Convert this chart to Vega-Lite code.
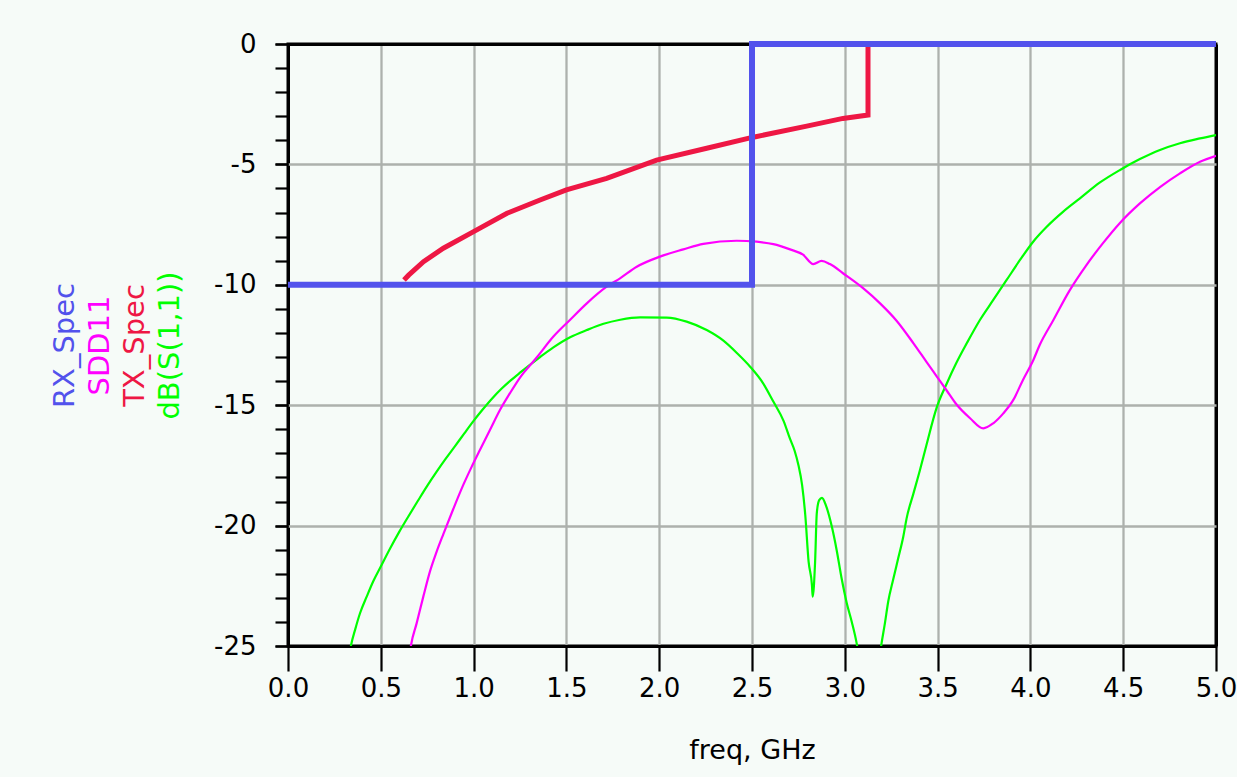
{
  "$schema": "https://vega.github.io/schema/vega-lite/v6.json",
  "width": 928,
  "height": 602,
  "autosize": {"type": "none"},
  "padding": {"left": 288, "top": 44, "right": 21, "bottom": 131},
  "background": "#f6fbf8",
  "config": {
    "view": {"stroke": "#000000", "strokeWidth": 3, "fill": "#f6fbf8"},
    "font": "DejaVu Sans"
  },
  "data": {
    "values": [
      {"series": "RX_Spec", "freq": 0, "dB": -10},
      {"series": "RX_Spec", "freq": 2.5, "dB": -10},
      {"series": "RX_Spec", "freq": 2.5, "dB": 0},
      {"series": "RX_Spec", "freq": 5, "dB": 0},

      {"series": "TX_Spec", "freq": 0.625, "dB": -9.8},
      {"series": "TX_Spec", "freq": 0.65, "dB": -9.6},
      {"series": "TX_Spec", "freq": 0.73, "dB": -9.04},
      {"series": "TX_Spec", "freq": 0.837, "dB": -8.48},
      {"series": "TX_Spec", "freq": 1.0, "dB": -7.79},
      {"series": "TX_Spec", "freq": 1.18, "dB": -7.03},
      {"series": "TX_Spec", "freq": 1.358, "dB": -6.48},
      {"series": "TX_Spec", "freq": 1.5, "dB": -6.06},
      {"series": "TX_Spec", "freq": 1.717, "dB": -5.58},
      {"series": "TX_Spec", "freq": 1.986, "dB": -4.82},
      {"series": "TX_Spec", "freq": 2.256, "dB": -4.33},
      {"series": "TX_Spec", "freq": 2.507, "dB": -3.87},
      {"series": "TX_Spec", "freq": 2.795, "dB": -3.41},
      {"series": "TX_Spec", "freq": 2.99, "dB": -3.09},
      {"series": "TX_Spec", "freq": 3.125, "dB": -2.95},
      {"series": "TX_Spec", "freq": 3.125, "dB": 0},

      {"series": "SDD11", "freq": 0.645, "dB": -26},
      {"series": "SDD11", "freq": 0.663, "dB": -24.96},
      {"series": "SDD11", "freq": 0.693, "dB": -24.06},
      {"series": "SDD11", "freq": 0.729, "dB": -22.95},
      {"series": "SDD11", "freq": 0.765, "dB": -21.9},
      {"series": "SDD11", "freq": 0.8, "dB": -21.1},
      {"series": "SDD11", "freq": 0.837, "dB": -20.35},
      {"series": "SDD11", "freq": 0.891, "dB": -19.3},
      {"series": "SDD11", "freq": 0.945, "dB": -18.3},
      {"series": "SDD11", "freq": 0.99, "dB": -17.55},
      {"series": "SDD11", "freq": 1.034, "dB": -16.86},
      {"series": "SDD11", "freq": 1.088, "dB": -16.03},
      {"series": "SDD11", "freq": 1.142, "dB": -15.2},
      {"series": "SDD11", "freq": 1.196, "dB": -14.5},
      {"series": "SDD11", "freq": 1.25, "dB": -13.85},
      {"series": "SDD11", "freq": 1.34, "dB": -13.02},
      {"series": "SDD11", "freq": 1.43, "dB": -12.15},
      {"series": "SDD11", "freq": 1.519, "dB": -11.46},
      {"series": "SDD11", "freq": 1.61, "dB": -10.77},
      {"series": "SDD11", "freq": 1.717, "dB": -10.08},
      {"series": "SDD11", "freq": 1.789, "dB": -9.73},
      {"series": "SDD11", "freq": 1.879, "dB": -9.25},
      {"series": "SDD11", "freq": 2.004, "dB": -8.83},
      {"series": "SDD11", "freq": 2.13, "dB": -8.53},
      {"series": "SDD11", "freq": 2.238, "dB": -8.3},
      {"series": "SDD11", "freq": 2.417, "dB": -8.17},
      {"series": "SDD11", "freq": 2.525, "dB": -8.21},
      {"series": "SDD11", "freq": 2.615, "dB": -8.31},
      {"series": "SDD11", "freq": 2.705, "dB": -8.53},
      {"series": "SDD11", "freq": 2.775, "dB": -8.75},
      {"series": "SDD11", "freq": 2.83, "dB": -9.14},
      {"series": "SDD11", "freq": 2.875, "dB": -9.01},
      {"series": "SDD11", "freq": 2.92, "dB": -9.14},
      {"series": "SDD11", "freq": 2.99, "dB": -9.52},
      {"series": "SDD11", "freq": 3.1, "dB": -10.15},
      {"series": "SDD11", "freq": 3.19, "dB": -10.77},
      {"series": "SDD11", "freq": 3.28, "dB": -11.5},
      {"series": "SDD11", "freq": 3.37, "dB": -12.43},
      {"series": "SDD11", "freq": 3.44, "dB": -13.2},
      {"series": "SDD11", "freq": 3.495, "dB": -13.8},
      {"series": "SDD11", "freq": 3.55, "dB": -14.4},
      {"series": "SDD11", "freq": 3.6, "dB": -14.95},
      {"series": "SDD11", "freq": 3.675, "dB": -15.54},
      {"series": "SDD11", "freq": 3.746, "dB": -15.96},
      {"series": "SDD11", "freq": 3.8, "dB": -15.75},
      {"series": "SDD11", "freq": 3.854, "dB": -15.34},
      {"series": "SDD11", "freq": 3.908, "dB": -14.78},
      {"series": "SDD11", "freq": 3.96, "dB": -13.95},
      {"series": "SDD11", "freq": 4.016, "dB": -13.12},
      {"series": "SDD11", "freq": 4.05, "dB": -12.5},
      {"series": "SDD11", "freq": 4.124, "dB": -11.46},
      {"series": "SDD11", "freq": 4.21, "dB": -10.25},
      {"series": "SDD11", "freq": 4.3, "dB": -9.2},
      {"series": "SDD11", "freq": 4.39, "dB": -8.28},
      {"series": "SDD11", "freq": 4.48, "dB": -7.45},
      {"series": "SDD11", "freq": 4.59, "dB": -6.62},
      {"series": "SDD11", "freq": 4.7, "dB": -5.93},
      {"series": "SDD11", "freq": 4.806, "dB": -5.37},
      {"series": "SDD11", "freq": 4.914, "dB": -4.89},
      {"series": "SDD11", "freq": 5.0, "dB": -4.64},

      {"series": "dB(S(1,1))", "freq": 0.32, "dB": -26},
      {"series": "dB(S(1,1))", "freq": 0.34, "dB": -24.96},
      {"series": "dB(S(1,1))", "freq": 0.361, "dB": -24.34},
      {"series": "dB(S(1,1))", "freq": 0.388, "dB": -23.64},
      {"series": "dB(S(1,1))", "freq": 0.424, "dB": -22.95},
      {"series": "dB(S(1,1))", "freq": 0.46, "dB": -22.3},
      {"series": "dB(S(1,1))", "freq": 0.5, "dB": -21.7},
      {"series": "dB(S(1,1))", "freq": 0.55, "dB": -20.95},
      {"series": "dB(S(1,1))", "freq": 0.6, "dB": -20.25},
      {"series": "dB(S(1,1))", "freq": 0.65, "dB": -19.6},
      {"series": "dB(S(1,1))", "freq": 0.7, "dB": -18.97},
      {"series": "dB(S(1,1))", "freq": 0.75, "dB": -18.35},
      {"series": "dB(S(1,1))", "freq": 0.8, "dB": -17.77},
      {"series": "dB(S(1,1))", "freq": 0.85, "dB": -17.22},
      {"series": "dB(S(1,1))", "freq": 0.9, "dB": -16.7},
      {"series": "dB(S(1,1))", "freq": 0.95, "dB": -16.17},
      {"series": "dB(S(1,1))", "freq": 1.0, "dB": -15.65},
      {"series": "dB(S(1,1))", "freq": 1.05, "dB": -15.17},
      {"series": "dB(S(1,1))", "freq": 1.1, "dB": -14.72},
      {"series": "dB(S(1,1))", "freq": 1.15, "dB": -14.32},
      {"series": "dB(S(1,1))", "freq": 1.2, "dB": -13.97},
      {"series": "dB(S(1,1))", "freq": 1.25, "dB": -13.65},
      {"series": "dB(S(1,1))", "freq": 1.358, "dB": -13.0},
      {"series": "dB(S(1,1))", "freq": 1.43, "dB": -12.6},
      {"series": "dB(S(1,1))", "freq": 1.52, "dB": -12.18},
      {"series": "dB(S(1,1))", "freq": 1.61, "dB": -11.88},
      {"series": "dB(S(1,1))", "freq": 1.7, "dB": -11.62},
      {"series": "dB(S(1,1))", "freq": 1.79, "dB": -11.45},
      {"series": "dB(S(1,1))", "freq": 1.897, "dB": -11.35},
      {"series": "dB(S(1,1))", "freq": 2.04, "dB": -11.36},
      {"series": "dB(S(1,1))", "freq": 2.148, "dB": -11.53},
      {"series": "dB(S(1,1))", "freq": 2.256, "dB": -11.88},
      {"series": "dB(S(1,1))", "freq": 2.346, "dB": -12.32},
      {"series": "dB(S(1,1))", "freq": 2.417, "dB": -12.82},
      {"series": "dB(S(1,1))", "freq": 2.49, "dB": -13.4},
      {"series": "dB(S(1,1))", "freq": 2.56, "dB": -14.09},
      {"series": "dB(S(1,1))", "freq": 2.615, "dB": -14.85},
      {"series": "dB(S(1,1))", "freq": 2.67, "dB": -15.65},
      {"series": "dB(S(1,1))", "freq": 2.705, "dB": -16.4},
      {"series": "dB(S(1,1))", "freq": 2.73, "dB": -16.9},
      {"series": "dB(S(1,1))", "freq": 2.75, "dB": -17.48},
      {"series": "dB(S(1,1))", "freq": 2.77, "dB": -18.32},
      {"series": "dB(S(1,1))", "freq": 2.787, "dB": -19.56},
      {"series": "dB(S(1,1))", "freq": 2.805, "dB": -21.5},
      {"series": "dB(S(1,1))", "freq": 2.823, "dB": -22.47},
      {"series": "dB(S(1,1))", "freq": 2.827, "dB": -22.95},
      {"series": "dB(S(1,1))", "freq": 2.84, "dB": -21.5},
      {"series": "dB(S(1,1))", "freq": 2.849, "dB": -19.49},
      {"series": "dB(S(1,1))", "freq": 2.862, "dB": -18.94},
      {"series": "dB(S(1,1))", "freq": 2.877, "dB": -18.85},
      {"series": "dB(S(1,1))", "freq": 2.9, "dB": -19.2},
      {"series": "dB(S(1,1))", "freq": 2.93, "dB": -20.04},
      {"series": "dB(S(1,1))", "freq": 2.956, "dB": -21.01},
      {"series": "dB(S(1,1))", "freq": 2.983, "dB": -22.2},
      {"series": "dB(S(1,1))", "freq": 3.01, "dB": -23.2},
      {"series": "dB(S(1,1))", "freq": 3.037, "dB": -23.98},
      {"series": "dB(S(1,1))", "freq": 3.064, "dB": -24.89},
      {"series": "dB(S(1,1))", "freq": 3.09, "dB": -26.2},
      {"series": "dB(S(1,1))", "freq": 3.13, "dB": -27.3},
      {"series": "dB(S(1,1))", "freq": 3.17, "dB": -26.4},
      {"series": "dB(S(1,1))", "freq": 3.198, "dB": -24.89},
      {"series": "dB(S(1,1))", "freq": 3.216, "dB": -24.06},
      {"series": "dB(S(1,1))", "freq": 3.234, "dB": -23.15},
      {"series": "dB(S(1,1))", "freq": 3.26, "dB": -22.26},
      {"series": "dB(S(1,1))", "freq": 3.288, "dB": -21.35},
      {"series": "dB(S(1,1))", "freq": 3.315, "dB": -20.46},
      {"series": "dB(S(1,1))", "freq": 3.333, "dB": -19.7},
      {"series": "dB(S(1,1))", "freq": 3.37, "dB": -18.66},
      {"series": "dB(S(1,1))", "freq": 3.405, "dB": -17.69},
      {"series": "dB(S(1,1))", "freq": 3.44, "dB": -16.65},
      {"series": "dB(S(1,1))", "freq": 3.495, "dB": -15.1},
      {"series": "dB(S(1,1))", "freq": 3.55, "dB": -14.09},
      {"series": "dB(S(1,1))", "freq": 3.6, "dB": -13.26},
      {"series": "dB(S(1,1))", "freq": 3.657, "dB": -12.43},
      {"series": "dB(S(1,1))", "freq": 3.728, "dB": -11.46},
      {"series": "dB(S(1,1))", "freq": 3.8, "dB": -10.63},
      {"series": "dB(S(1,1))", "freq": 3.872, "dB": -9.8},
      {"series": "dB(S(1,1))", "freq": 3.944, "dB": -8.97},
      {"series": "dB(S(1,1))", "freq": 4.016, "dB": -8.2},
      {"series": "dB(S(1,1))", "freq": 4.088, "dB": -7.59},
      {"series": "dB(S(1,1))", "freq": 4.177, "dB": -6.96},
      {"series": "dB(S(1,1))", "freq": 4.267, "dB": -6.41},
      {"series": "dB(S(1,1))", "freq": 4.375, "dB": -5.75},
      {"series": "dB(S(1,1))", "freq": 4.483, "dB": -5.23},
      {"series": "dB(S(1,1))", "freq": 4.59, "dB": -4.78},
      {"series": "dB(S(1,1))", "freq": 4.698, "dB": -4.4},
      {"series": "dB(S(1,1))", "freq": 4.806, "dB": -4.12},
      {"series": "dB(S(1,1))", "freq": 4.914, "dB": -3.92},
      {"series": "dB(S(1,1))", "freq": 5.0, "dB": -3.78}
    ]
  },
  "encoding": {
    "x": {
      "field": "freq",
      "type": "quantitative",
      "scale": {"domain": [0, 5], "nice": false, "zero": false},
      "axis": {
        "title": "freq, GHz",
        "values": [0, 0.5, 1, 1.5, 2, 2.5, 3, 3.5, 4, 4.5, 5],
        "format": ".1f",
        "grid": true,
        "gridColor": {"condition": {"test": "datum.value == 0 || datum.value == 5", "value": "#000000"}, "value": "#adb1ad"},
        "gridWidth": {"condition": {"test": "datum.value == 0 || datum.value == 5", "value": 3}, "value": 2.3},
        "gridOpacity": 1,
        "domain": false,
        "ticks": true,
        "tickColor": "#000000",
        "tickWidth": 2.2,
        "tickSize": 25,
        "labelFont": "DejaVu Sans",
        "labelFontSize": 26,
        "labelColor": "#000000",
        "labelPadding": 4,
        "labelFlush": false,
        "labelOverlap": false,
        "titleFont": "DejaVu Sans",
        "titleFontSize": 27,
        "titleFontWeight": "normal",
        "titleColor": "#000000",
        "titleY": 112,
        "titleBaseline": "alphabetic"
      }
    },
    "order": {"value": null}
  },
  "layer": [
    {
      "transform": [{"filter": "datum.series == 'dB(S(1,1))'"}],
      "mark": {"type": "line", "color": "#00ff00", "strokeWidth": 2.2, "clip": true, "interpolate": "monotone"},
      "encoding": {
        "y": {
          "field": "dB",
          "type": "quantitative",
          "scale": {"domain": [-25, 0], "nice": false, "zero": false},
          "axis": {
            "orient": "left",
            "values": [0, -5, -10, -15, -20, -25],
            "labelExpr": "toString(datum.value)",
            "grid": true,
            "gridColor": {"condition": {"test": "datum.value == 0 || datum.value == -25", "value": "#000000"}, "value": "#adb1ad"},
            "gridWidth": {"condition": {"test": "datum.value == 0 || datum.value == -25", "value": 3}, "value": 2.3},
            "gridOpacity": 1,
            "domain": false,
            "ticks": true,
            "tickColor": "#000000",
            "tickWidth": 2.2,
            "tickSize": 13,
            "labelFont": "DejaVu Sans",
            "labelFontSize": 26,
            "labelColor": "#000000",
            "labelPadding": 19,
            "labelBaseline": "middle",
            "labelFlush": false,
            "labelOverlap": false,
            "title": "dB(S(1,1))",
            "titleColor": "#00ff00",
            "titleFont": "DejaVu Sans",
            "titleFontSize": 29,
            "titleFontWeight": "normal",
            "titleAngle": -90,
            "titleAlign": "center",
            "titleBaseline": "alphabetic",
            "titleX": -110,
            "titleY": 301
          }
        }
      }
    },
    {
      "transform": [{"filter": "datum.series == 'SDD11'"}],
      "mark": {"type": "line", "color": "#ff00ff", "strokeWidth": 2.2, "clip": true, "interpolate": "monotone"},
      "encoding": {
        "y": {
          "field": "dB",
          "type": "quantitative",
          "scale": {"domain": [-25, 0], "nice": false, "zero": false},
          "axis": {
            "orient": "left",
            "values": [0, -1, -2, -3, -4, -5, -6, -7, -8, -9, -10, -11, -12, -13, -14, -15, -16, -17, -18, -19, -20, -21, -22, -23, -24, -25],
            "labels": false,
            "grid": false,
            "domain": false,
            "ticks": true,
            "tickColor": "#000000",
            "tickWidth": 2.2,
            "tickSize": 13,
            "title": "SDD11",
            "titleColor": "#ff00ff",
            "titleFont": "DejaVu Sans",
            "titleFontSize": 29,
            "titleFontWeight": "normal",
            "titleAngle": -90,
            "titleAlign": "center",
            "titleBaseline": "alphabetic",
            "titleX": -180,
            "titleY": 301
          }
        }
      }
    },
    {
      "transform": [{"filter": "datum.series == 'TX_Spec'"}],
      "mark": {"type": "line", "color": "#ee1744", "strokeWidth": 5, "strokeCap": "butt"},
      "encoding": {
        "y": {
          "field": "dB",
          "type": "quantitative",
          "scale": {"domain": [-25, 0], "nice": false, "zero": false},
          "axis": {
            "orient": "left",
            "labels": false,
            "grid": false,
            "domain": false,
            "ticks": false,
            "title": "TX_Spec",
            "titleColor": "#ee1744",
            "titleFont": "DejaVu Sans",
            "titleFontSize": 29,
            "titleFontWeight": "normal",
            "titleAngle": -90,
            "titleAlign": "center",
            "titleBaseline": "alphabetic",
            "titleX": -145,
            "titleY": 301
          }
        }
      }
    },
    {
      "transform": [{"filter": "datum.series == 'RX_Spec'"}],
      "mark": {"type": "line", "color": "#5252ec", "strokeWidth": 6, "strokeCap": "butt"},
      "encoding": {
        "y": {
          "field": "dB",
          "type": "quantitative",
          "scale": {"domain": [-25, 0], "nice": false, "zero": false},
          "axis": {
            "orient": "left",
            "labels": false,
            "grid": false,
            "domain": false,
            "ticks": false,
            "title": "RX_Spec",
            "titleColor": "#5252ec",
            "titleFont": "DejaVu Sans",
            "titleFontSize": 29,
            "titleFontWeight": "normal",
            "titleAngle": -90,
            "titleAlign": "center",
            "titleBaseline": "alphabetic",
            "titleX": -215,
            "titleY": 301
          }
        }
      }
    }
  ],
  "resolve": {"axis": {"y": "independent"}}
}
